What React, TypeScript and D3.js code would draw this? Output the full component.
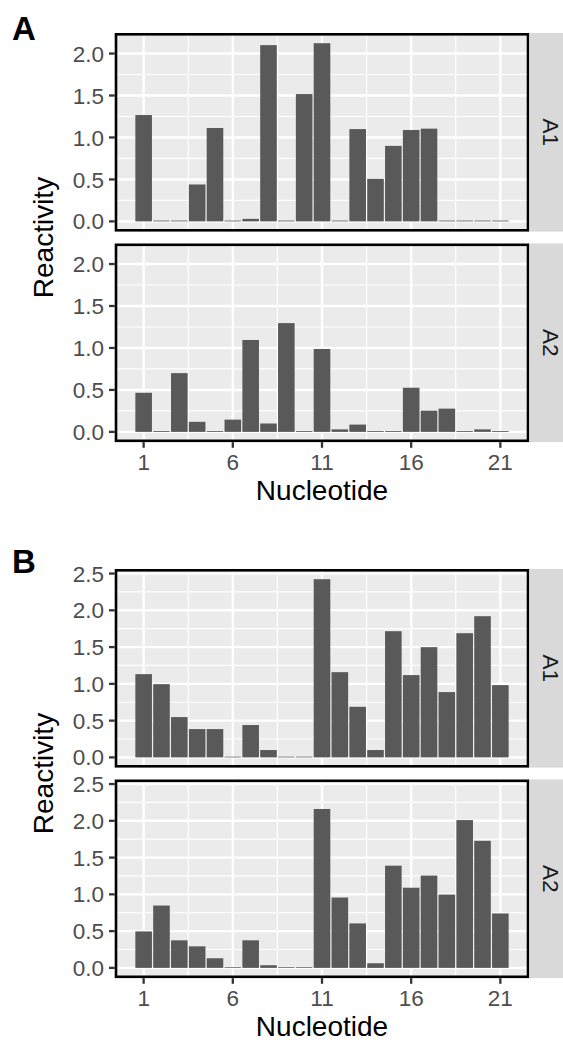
import React from "react";
import * as d3 from "d3";

// ---- data ----
const nucleotides = [1, 2, 3, 4, 5, 6, 7, 8, 9, 10, 11, 12, 13, 14, 15, 16, 17, 18, 19, 20, 21];
const xTickValues = [1, 6, 11, 16, 21];

const blockA_A1 = [1.267, 0.01, 0.01, 0.44, 1.113, 0.01, 0.03, 2.1, 0.01, 1.517, 2.123, 0.01, 1.1, 0.507, 0.9, 1.089, 1.105, 0.01, 0.01, 0.01, 0.01];
const blockA_A2 = [0.466, 0.01, 0.7, 0.12, 0.01, 0.146, 1.095, 0.1, 1.296, 0.01, 0.988, 0.03, 0.087, 0.01, 0.01, 0.526, 0.253, 0.277, 0.01, 0.03, 0.01];
const blockB_A1 = [1.132, 0.996, 0.548, 0.385, 0.385, 0.01, 0.44, 0.1, 0.01, 0.01, 2.423, 1.159, 0.688, 0.1, 1.716, 1.119, 1.499, 0.888, 1.689, 1.92, 0.983];
const blockB_A2 = [0.496, 0.848, 0.375, 0.293, 0.131, 0.01, 0.375, 0.036, 0.01, 0.01, 2.161, 0.957, 0.605, 0.063, 1.39, 1.09, 1.255, 0.997, 2.01, 1.728, 0.74];

const yTicksA = [0, 0.5, 1, 1.5, 2];
const yTicksB = [0, 0.5, 1, 1.5, 2, 2.5];
const stripLabels = ["A1", "A2"];
const blockLabels = ["A", "B"];
const xTitle = "Nucleotide";
const yTitle = "Reactivity";

// ---- layout ----
const W = 563;
const H = 1045;
const panelLeft = 116;
const panelRight = 528;
const stripW = 43;
const panelH = 196;
const panelGap = 14.5;
const blockTops = [34.3, 570.3];
const blockLabelBaselines = [39.5, 573];
const FONT = "'Liberation Sans', Arial, Helvetica, sans-serif";

const xScale = d3.scaleLinear().domain([-0.55, 22.55]).range([panelLeft, panelRight]);
const barHalf = 0.465;

function midpoints(arr: number[]) {
  const out: number[] = [];
  for (let i = 0; i < arr.length - 1; i++) out.push((arr[i] + arr[i + 1]) / 2);
  return out;
}

function Panel({ top, values, yTicks, yMax, strip }: { top: number; values: number[]; yTicks: number[]; yMax: number; strip: string }) {
  const bottom = top + panelH;
  const y = d3.scaleLinear().domain([-0.05 * yMax, 1.05 * yMax]).range([bottom, top]);
  const [d0, d1] = y.domain();
  const yMinor = midpoints(yTicks).filter((v) => v > d0 && v < d1);
  const xMinor = midpoints(xTickValues);
  const w = panelRight - panelLeft;
  return (
    <g>
      <rect x={panelLeft} y={top} width={w} height={panelH} fill="#EBEBEB" />
      {yMinor.map((v) => (
        <line key={"ym" + v} x1={panelLeft} x2={panelRight} y1={y(v)} y2={y(v)} stroke="#FFFFFF" strokeWidth={1.2} />
      ))}
      {xMinor.map((v) => (
        <line key={"xm" + v} x1={xScale(v)} x2={xScale(v)} y1={top} y2={bottom} stroke="#FFFFFF" strokeWidth={1.2} />
      ))}
      {yTicks.map((v) => (
        <line key={"yM" + v} x1={panelLeft} x2={panelRight} y1={y(v)} y2={y(v)} stroke="#FFFFFF" strokeWidth={2.4} />
      ))}
      {xTickValues.map((v) => (
        <line key={"xM" + v} x1={xScale(v)} x2={xScale(v)} y1={top} y2={bottom} stroke="#FFFFFF" strokeWidth={2.4} />
      ))}
      {values.map((v, i) => {
        const n = nucleotides[i];
        const x0 = xScale(n - barHalf);
        const x1 = xScale(n + barHalf);
        return <rect key={"b" + n} x={x0} y={y(v)} width={x1 - x0} height={y(0) - y(v)} fill="#595959" />;
      })}
      <rect x={panelLeft} y={top} width={w} height={panelH} fill="none" stroke="#000000" strokeWidth={2.6} />
      {/* strip */}
      <rect x={panelRight + 1.3} y={top - 1.3} width={stripW} height={panelH + 2.6} fill="#D9D9D9" />
      <text
        x={panelRight + 1.3 + stripW / 2}
        y={top + panelH / 2}
        transform={`rotate(90, ${panelRight + 1.3 + stripW / 2}, ${top + panelH / 2})`}
        textAnchor="middle"
        dominantBaseline="central"
        fontFamily={FONT}
        fontSize={22.5}
        fill="#1A1A1A"
      >
        {strip}
      </text>
      {/* y axis */}
      {yTicks.map((v) => (
        <g key={"yt" + v}>
          <line x1={panelLeft - 7} x2={panelLeft - 1.3} y1={y(v)} y2={y(v)} stroke="#333333" strokeWidth={2.3} />
          <text x={104} y={y(v)} dy="0.36em" textAnchor="end" fontFamily={FONT} fontSize={22.5} fill="#4D4D4D">
            {d3.format(".1f")(v)}
          </text>
        </g>
      ))}
    </g>
  );
}

function Block({ idx, top, a1, a2, yTicks }: { idx: number; top: number; a1: number[]; a2: number[]; yTicks: number[] }) {
  const yMax = Math.max(d3.max(a1) as number, d3.max(a2) as number);
  const top2 = top + panelH + panelGap;
  const bottom = top2 + panelH;
  const cy = (top + bottom) / 2;
  const cx = (panelLeft + panelRight) / 2;
  return (
    <g>
      <text x={12} y={blockLabelBaselines[idx]} fontFamily={FONT} fontWeight="bold" fontSize={33} fill="#000000">
        {blockLabels[idx]}
      </text>
      <Panel top={top} values={a1} yTicks={yTicks} yMax={yMax} strip={stripLabels[0]} />
      <Panel top={top2} values={a2} yTicks={yTicks} yMax={yMax} strip={stripLabels[1]} />
      {xTickValues.map((v) => (
        <g key={"xt" + v}>
          <line x1={xScale(v)} x2={xScale(v)} y1={bottom + 1.3} y2={bottom + 7} stroke="#333333" strokeWidth={2.3} />
          <text x={xScale(v)} y={bottom + 29} textAnchor="middle" fontFamily={FONT} fontSize={22.5} fill="#4D4D4D">
            {v}
          </text>
        </g>
      ))}
      <text x={cx} y={bottom + 59} textAnchor="middle" fontFamily={FONT} fontSize={28} fill="#000000">
        {xTitle}
      </text>
      <text
        x={53}
        y={cy}
        transform={`rotate(-90, 53, ${cy})`}
        textAnchor="middle"
        fontFamily={FONT}
        fontSize={28}
        fill="#000000"
      >
        {yTitle}
      </text>
    </g>
  );
}

export default function App() {
  return (
    <svg
      width={W}
      height={H}
      viewBox={`0 0 ${W} ${H}`}
      style={{ position: "absolute", left: 0, top: 0, background: "#FFFFFF" }}
    >
      <rect x={0} y={0} width={W} height={H} fill="#FFFFFF" />
      <Block idx={0} top={blockTops[0]} a1={blockA_A1} a2={blockA_A2} yTicks={yTicksA} />
      <Block idx={1} top={blockTops[1]} a1={blockB_A1} a2={blockB_A2} yTicks={yTicksB} />
    </svg>
  );
}
